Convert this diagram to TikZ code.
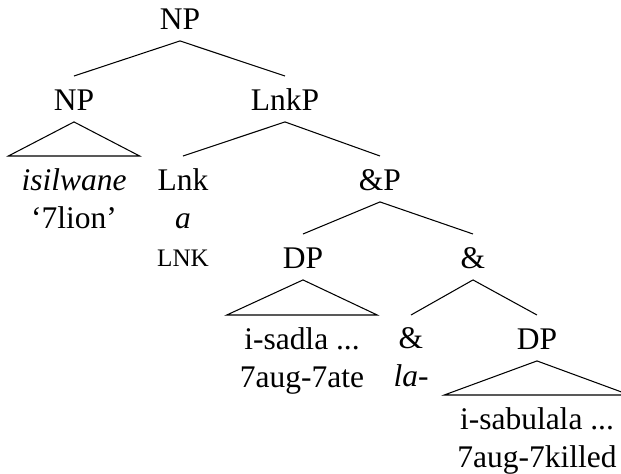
\documentclass[tikz,border=0pt]{standalone}
\usepackage{fontspec}
\setmainfont{Liberation Serif}

\begin{document}
\begin{tikzpicture}[x=0.381pt, y=-0.381pt,
        font=\fontsize{12}{14.4}\selectfont,
        cat/.style={anchor=north, inner xsep=0pt, inner ysep=4.3pt, text height=8.5pt, text depth=0pt},
        leaf/.style={anchor=north, align=center, inner xsep=4.8pt, inner ysep=4.6pt}]
    \useasboundingbox (0,0) rectangle (621,474);

    \node[cat] (np) at (180,-5) {NP};
    \node[cat] (subj) at (74,76) {NP};
    \node[cat] (lnkp) at (285,76) {LnkP};
    \node[leaf] (lion) at (74,156) {\textit{isilwane}\\`7lion'};
    \node[leaf] (lnk) at (183,156) {Lnk\\\textit{a}\\{\fontsize{9.6}{14.4}\selectfont LNK}};
    \node[cat] (andp) at (380,156) {\&P};
    \node[cat] (dpa) at (303,234) {DP};
    \node[cat] (andbar) at (473,234) {\&};
    \node[leaf] (ate) at (302,315) {i-sadla ...\\7aug-7ate};
    \node[leaf] (conj) at (411,315) {\&\\\textit{la-}};
    \node[cat] (dpb) at (537,315) {DP};
    \node[leaf] (killed) at (537,395) {i-sabulala ...\\7aug-7killed};

    \draw (np.south) -- (subj.north);
    \draw (np.south) -- (lnkp.north);
    \draw (subj.south) -- (lion.north west) -- (lion.north east) -- cycle;
    \draw (lnkp.south) -- (lnk.north);
    \draw (lnkp.south) -- (andp.north);
    \draw (andp.south) -- (dpa.north);
    \draw (andp.south) -- (andbar.north);
    \draw (dpa.south) -- (ate.north west) -- (ate.north east) -- cycle;
    \draw (andbar.south) -- (conj.north);
    \draw (andbar.south) -- (dpb.north);
    \draw (dpb.south) -- (killed.north west) -- (killed.north east) -- cycle;
\end{tikzpicture}
\end{document}
